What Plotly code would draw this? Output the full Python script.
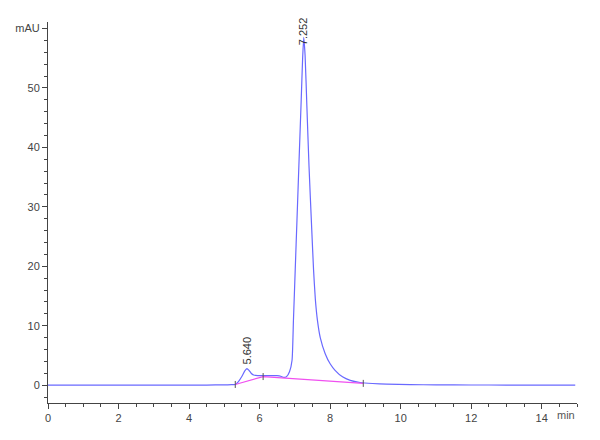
import plotly.graph_objects as go

# chromatogram trace (min, mAU)
rt = [0, 1, 2, 3, 4, 4.5, 5.0, 5.2, 5.31, 5.4, 5.5, 5.58, 5.64, 5.7, 5.76, 5.83, 5.95,
      6.1, 6.3, 6.49, 6.6, 6.68, 6.76, 6.85, 6.92, 6.96, 7.01, 7.06, 7.12, 7.18, 7.22,
      7.252, 7.29, 7.34, 7.40, 7.48, 7.53, 7.58, 7.64, 7.72, 7.86, 8.0, 8.14,
      8.35, 8.57, 8.85, 9.2, 9.6, 10.27, 11, 12, 13, 14, 14.95]
mau = [0, 0, 0, 0, 0, 0.02, 0.05, 0.08, 0.12, 0.6, 1.5, 2.4, 2.8, 2.5, 2.0, 1.7, 1.6,
       1.6, 1.6, 1.6, 1.5, 1.3, 1.4, 2.3, 4.2, 11, 19.4, 27.8, 38, 48, 55,
       58.5, 55.5, 47, 37, 26, 19.4, 14.5, 10.9, 8.0, 5.3, 3.6, 2.5,
       1.4, 0.8, 0.45, 0.28, 0.18, 0.1, 0.05, 0.03, 0.02, 0.01, 0.01]

# integration baseline
base_rt = [5.31, 6.1, 8.94]
base_mau = [0.12, 1.45, 0.3]

peak_rt = [5.640, 7.252]
peak_mau = [2.8, 58.5]
peak_labels = ["5.640", "7.252"]
label_shift = [2, -10]

x_ticks = [0, 2, 4, 6, 8, 10, 12, 14]
y_ticks = [0, 10, 20, 30, 40, 50, 60]
y_ticktext = ["0", "10", "20", "30", "40", "50", "mAU"]

font_fam = "Liberation Sans Narrow, Arial Narrow, Liberation Sans, sans-serif"

fig = go.Figure()
fig.add_trace(go.Scatter(x=rt, y=mau, mode="lines",
                         line=dict(color="rgb(105,105,255)", width=1.2,
                                   shape="spline", smoothing=0.5)))
fig.add_trace(go.Scatter(x=base_rt, y=base_mau, mode="lines",
                         line=dict(color="rgb(240,80,240)", width=1.2)))
# drop-line markers at baseline ends
fig.add_trace(go.Scatter(x=base_rt, y=base_mau, mode="markers",
                         marker=dict(symbol="line-ns", size=5,
                                     line=dict(color="#555", width=1))))

for x, y, t, s in zip(peak_rt, peak_mau, peak_labels, label_shift):
    fig.add_annotation(x=x, y=y, text=t, showarrow=False, textangle=-90,
                       yanchor="bottom", yshift=s,
                       font=dict(family=font_fam, size=11, color="#333"))

fig.add_annotation(x=15, y=0, xref="x", yref="paper", text="min", showarrow=False,
                   xanchor="right", yanchor="top", yshift=-4,
                   font=dict(family=font_fam, size=11, color="#555"))

axis_style = dict(showline=True, linecolor="#444", linewidth=1, showgrid=False,
                  zeroline=False, ticks="outside", ticklen=5, tickcolor="#444",
                  automargin=False,
                  tickfont=dict(family=font_fam, size=11, color="#444"))

fig.update_xaxes(range=[0, 15], tickvals=x_ticks,
                 minor=dict(dtick=0.5, ticks="outside", ticklen=3, tickcolor="#444"),
                 **axis_style)
fig.update_yaxes(range=[-3.0, 61.1], tickvals=y_ticks, ticktext=y_ticktext,
                 minor=dict(dtick=2, ticks="outside", ticklen=3, tickcolor="#444"),
                 **axis_style)

# the page adds ~8px of body margin, so margins are shifted to compensate
fig.update_layout(width=600, height=440, showlegend=False,
                  plot_bgcolor="white", paper_bgcolor="white",
                  margin=dict(l=40, r=31, t=14, b=45))

fig.write_html("out.html")
